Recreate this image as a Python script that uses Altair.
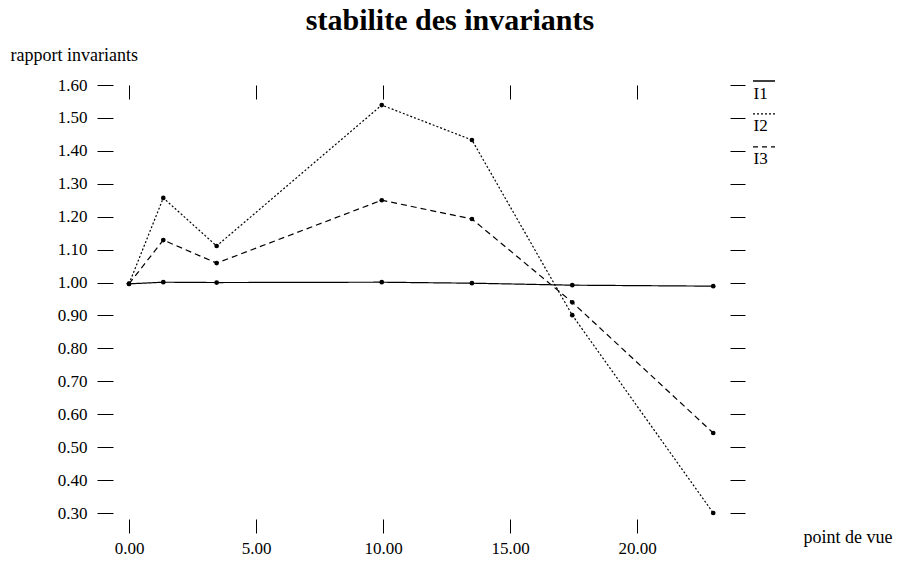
import altair as alt
import pandas as pd

# ---- data ----
title_text = "stabilite des invariants"
x_vals = [0.0, 1.35, 3.45, 9.95, 13.5, 17.45, 23.0]
i1_vals = [0.996, 1.001, 1.000, 1.001, 0.998, 0.992, 0.989]
i2_vals = [0.996, 1.257, 1.111, 1.539, 1.433, 0.901, 0.300]
i3_vals = [0.996, 1.129, 1.059, 1.250, 1.193, 0.940, 0.543]
series_names = ["I1", "I2", "I3"]
x_ticks = [0, 5, 10, 15, 20]
y_ticks = [0.3, 0.4, 0.5, 0.6, 0.7, 0.8, 0.9, 1.0, 1.1, 1.2, 1.3, 1.4, 1.5, 1.6]
legend_levels = [1.6, 1.5, 1.4]
dash_styles = [[1, 0], [2, 2], [6, 4]]
legend_dash_styles = [[1, 0], [2, 2], [5, 4]]

rows = []
for name, vals in zip(series_names, [i1_vals, i2_vals, i3_vals]):
    for xv, yv in zip(x_vals, vals):
        rows.append({"series": name, "x": xv, "y": yv})
df = pd.DataFrame(rows)
leg_df = pd.DataFrame({"series": series_names, "level": legend_levels})

FONT = "Liberation Serif"
W, H = 617, 428
xs = alt.Scale(domain=[-0.63, 23.66], nice=False, zero=False)
ys = alt.Scale(domain=[0.3, 1.6], nice=False, zero=False)

bottom_axis = alt.Axis(orient="bottom", values=x_ticks, format=".2f", domain=False,
                       grid=False, offset=6, tickSize=14, tickColor="black",
                       labelPadding=7, labelFontSize=17, labelFont=FONT, labelColor="black",
                       title="point de vue", titleFont=FONT, titleFontSize=18,
                       titleFontWeight="normal", titleColor="black",
                       titleX=779, titleY=18, titleAlign="right", titleBaseline="middle",
                       titleAngle=0)
left_axis = alt.Axis(orient="left", values=y_ticks, format=".2f", domain=False,
                     grid=False, offset=0, tickSize=16, tickColor="black",
                     labelPadding=10, labelFontSize=17, labelFont=FONT, labelColor="black",
                     title="rapport invariants", titleFont=FONT, titleFontSize=18,
                     titleFontWeight="normal", titleColor="black",
                     titleX=-103, titleY=-30, titleAlign="left", titleBaseline="middle",
                     titleAngle=0)
top_axis = alt.Axis(orient="top", values=x_ticks, labels=False, domain=False,
                    grid=False, offset=-14, tickSize=14, tickColor="black", title=None)

expr_parts = []
for name, lvl in zip(series_names, legend_levels):
    expr_parts.append(f"abs(datum.value - {lvl}) < 0.005 ? '{name}' : ")
label_expr = "".join(expr_parts) + "''"
right_axis = alt.Axis(orient="right", values=y_ticks, labelExpr=label_expr, domain=False,
                      grid=False, tickSize=15, tickColor="black", labelPadding=8,
                      labelFontSize=17, labelFont=FONT, labelColor="black",
                      labelBaseline="top", title=None)

lines = alt.Chart(df).mark_line(color="black", strokeWidth=1.2).encode(
    x=alt.X("x:Q", scale=xs, axis=bottom_axis),
    y=alt.Y("y:Q", scale=ys, axis=left_axis),
    strokeDash=alt.StrokeDash("series:N",
                              scale=alt.Scale(domain=series_names, range=dash_styles),
                              legend=None),
    detail="series:N",
)

points = alt.Chart(df).mark_circle(size=22, color="black", opacity=1).encode(
    x=alt.X("x:Q", scale=xs, axis=top_axis),
    y=alt.Y("y:Q", scale=ys, axis=right_axis),
)

overlines = []
for name, dash in zip(series_names, legend_dash_styles):
    overlines.append(
        alt.Chart(leg_df[leg_df["series"] == name]).mark_rule(
            color="black", strokeWidth=1.3, strokeDash=dash, yOffset=-4
        ).encode(
            y=alt.Y("level:Q", scale=ys, axis=None),
            x=alt.value(640),
            x2=alt.value(662),
        )
    )

title_mark = alt.Chart(pd.DataFrame({"t": [title_text]})).mark_text(
    font=FONT, fontSize=30, fontWeight="bold", color="black",
    align="center", baseline="alphabetic"
).encode(text="t:N", x=alt.value(337), y=alt.value(-55))

chart = alt.layer(lines, points, *overlines, title_mark).properties(
    width=W,
    height=H,
    autosize=alt.AutoSizeParams(type="none"),
    padding={"left": 105, "top": 77, "right": 163, "bottom": 43},
).configure(background="white").configure_view(strokeWidth=0, stroke=None)

chart.save("out.html", embed_options={"renderer": "svg", "actions": False})
